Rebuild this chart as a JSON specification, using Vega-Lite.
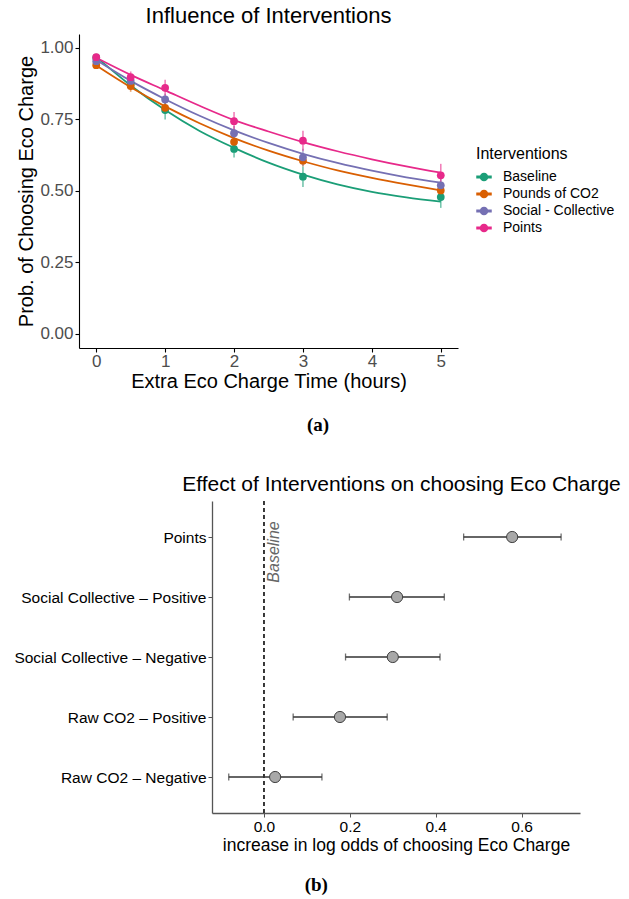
{
  "$schema": "https://vega.github.io/schema/vega-lite/v6.json",
  "padding": {"left": 5, "top": 5, "right": 0, "bottom": 5},
  "background": "white",
  "spacing": 38,
  "resolve": {"scale": {"color": "independent"}, "legend": {"color": "independent"}},
  "datasets": {
    "curves": [
      {"intervention": "Baseline", "time": 0, "prob": 0.968},
      {"intervention": "Baseline", "time": 0.5, "prob": 0.868},
      {"intervention": "Baseline", "time": 1, "prob": 0.782},
      {"intervention": "Baseline", "time": 1.5, "prob": 0.709},
      {"intervention": "Baseline", "time": 2, "prob": 0.650},
      {"intervention": "Baseline", "time": 2.5, "prob": 0.598},
      {"intervention": "Baseline", "time": 3, "prob": 0.556},
      {"intervention": "Baseline", "time": 3.5, "prob": 0.522},
      {"intervention": "Baseline", "time": 4, "prob": 0.496},
      {"intervention": "Baseline", "time": 4.5, "prob": 0.477},
      {"intervention": "Baseline", "time": 5, "prob": 0.462},
      {"intervention": "Pounds of CO2", "time": 0, "prob": 0.938},
      {"intervention": "Pounds of CO2", "time": 0.5, "prob": 0.862},
      {"intervention": "Pounds of CO2", "time": 1, "prob": 0.795},
      {"intervention": "Pounds of CO2", "time": 1.5, "prob": 0.736},
      {"intervention": "Pounds of CO2", "time": 2, "prob": 0.684},
      {"intervention": "Pounds of CO2", "time": 2.5, "prob": 0.640},
      {"intervention": "Pounds of CO2", "time": 3, "prob": 0.603},
      {"intervention": "Pounds of CO2", "time": 3.5, "prob": 0.571},
      {"intervention": "Pounds of CO2", "time": 4, "prob": 0.545},
      {"intervention": "Pounds of CO2", "time": 4.5, "prob": 0.522},
      {"intervention": "Pounds of CO2", "time": 5, "prob": 0.501},
      {"intervention": "Social - Collective", "time": 0, "prob": 0.957},
      {"intervention": "Social - Collective", "time": 0.5, "prob": 0.884},
      {"intervention": "Social - Collective", "time": 1, "prob": 0.820},
      {"intervention": "Social - Collective", "time": 1.5, "prob": 0.762},
      {"intervention": "Social - Collective", "time": 2, "prob": 0.711},
      {"intervention": "Social - Collective", "time": 2.5, "prob": 0.667},
      {"intervention": "Social - Collective", "time": 3, "prob": 0.629},
      {"intervention": "Social - Collective", "time": 3.5, "prob": 0.597},
      {"intervention": "Social - Collective", "time": 4, "prob": 0.570},
      {"intervention": "Social - Collective", "time": 4.5, "prob": 0.547},
      {"intervention": "Social - Collective", "time": 5, "prob": 0.528},
      {"intervention": "Points", "time": 0, "prob": 0.965},
      {"intervention": "Points", "time": 0.5, "prob": 0.905},
      {"intervention": "Points", "time": 1, "prob": 0.851},
      {"intervention": "Points", "time": 1.5, "prob": 0.797},
      {"intervention": "Points", "time": 2, "prob": 0.747},
      {"intervention": "Points", "time": 2.5, "prob": 0.707},
      {"intervention": "Points", "time": 3, "prob": 0.670},
      {"intervention": "Points", "time": 3.5, "prob": 0.638},
      {"intervention": "Points", "time": 4, "prob": 0.610},
      {"intervention": "Points", "time": 4.5, "prob": 0.585},
      {"intervention": "Points", "time": 5, "prob": 0.563}
    ],
    "obs": [
      {"intervention": "Baseline", "time": 0, "prob": 0.965, "lo": 0.955, "hi": 0.975},
      {"intervention": "Baseline", "time": 0.5, "prob": 0.872, "lo": 0.852, "hi": 0.892},
      {"intervention": "Baseline", "time": 1, "prob": 0.782, "lo": 0.749, "hi": 0.815},
      {"intervention": "Baseline", "time": 2, "prob": 0.646, "lo": 0.616, "hi": 0.676},
      {"intervention": "Baseline", "time": 3, "prob": 0.549, "lo": 0.513, "hi": 0.585},
      {"intervention": "Baseline", "time": 5, "prob": 0.478, "lo": 0.440, "hi": 0.516},
      {"intervention": "Pounds of CO2", "time": 0, "prob": 0.939, "lo": 0.929, "hi": 0.949},
      {"intervention": "Pounds of CO2", "time": 0.5, "prob": 0.866, "lo": 0.846, "hi": 0.886},
      {"intervention": "Pounds of CO2", "time": 1, "prob": 0.790, "lo": 0.770, "hi": 0.810},
      {"intervention": "Pounds of CO2", "time": 2, "prob": 0.671, "lo": 0.651, "hi": 0.691},
      {"intervention": "Pounds of CO2", "time": 3, "prob": 0.605, "lo": 0.585, "hi": 0.625},
      {"intervention": "Pounds of CO2", "time": 5, "prob": 0.501, "lo": 0.481, "hi": 0.521},
      {"intervention": "Social - Collective", "time": 0, "prob": 0.953, "lo": 0.943, "hi": 0.963},
      {"intervention": "Social - Collective", "time": 0.5, "prob": 0.884, "lo": 0.864, "hi": 0.904},
      {"intervention": "Social - Collective", "time": 1, "prob": 0.819, "lo": 0.799, "hi": 0.839},
      {"intervention": "Social - Collective", "time": 2, "prob": 0.701, "lo": 0.676, "hi": 0.726},
      {"intervention": "Social - Collective", "time": 3, "prob": 0.617, "lo": 0.587, "hi": 0.647},
      {"intervention": "Social - Collective", "time": 5, "prob": 0.519, "lo": 0.494, "hi": 0.544},
      {"intervention": "Points", "time": 0, "prob": 0.967, "lo": 0.957, "hi": 0.977},
      {"intervention": "Points", "time": 0.5, "prob": 0.897, "lo": 0.877, "hi": 0.917},
      {"intervention": "Points", "time": 1, "prob": 0.860, "lo": 0.832, "hi": 0.888},
      {"intervention": "Points", "time": 2, "prob": 0.743, "lo": 0.711, "hi": 0.775},
      {"intervention": "Points", "time": 3, "prob": 0.675, "lo": 0.640, "hi": 0.710},
      {"intervention": "Points", "time": 5, "prob": 0.554, "lo": 0.514, "hi": 0.594}
    ],
    "effects": [
      {"term": "Points", "est": 0.578, "lo": 0.465, "hi": 0.692},
      {"term": "Social Collective – Positive", "est": 0.310, "lo": 0.199, "hi": 0.420},
      {"term": "Social Collective – Negative", "est": 0.300, "lo": 0.190, "hi": 0.410},
      {"term": "Raw CO2 – Positive", "est": 0.177, "lo": 0.068, "hi": 0.287},
      {"term": "Raw CO2 – Negative", "est": 0.026, "lo": -0.082, "hi": 0.135}
    ],
    "annot": [
      {"label": "Baseline", "x": 0, "term": "Points"}
    ]
  },
  "vconcat": [
    {
      "title": {"text": "(a)", "orient": "bottom", "anchor": "middle", "frame": "bounds", "dx": 8, "offset": 25, "font": "Liberation Serif", "fontSize": 19, "fontWeight": "bold", "color": "black"},
      "resolve": {"scale": {"color": "independent"}, "legend": {"color": "independent"}},
      "vconcat": [
        {
          "name": "toppanel",
          "width": 379,
          "height": 314,
          "title": {"text": "Influence of Interventions", "fontSize": 22, "font": "Liberation Sans", "fontWeight": "normal", "anchor": "middle", "frame": "group", "offset": 6, "color": "black"},
          "layer": [
            {
              "mark": {"type": "rule", "strokeDash": [5, 4], "color": "#808080", "strokeWidth": 1.1},
              "encoding": {
                "y": {"datum": 0.5, "type": "quantitative", "title": "Prob. of Choosing Eco Charge", "scale": {"domain": [-0.05, 1.048], "nice": false, "zero": false}}
              }
            },
            {
              "data": {"name": "curves"},
              "mark": {"type": "line", "interpolate": "monotone", "strokeWidth": 1.8},
              "encoding": {
                "x": {"field": "time", "type": "quantitative", "title": "Extra Eco Charge Time (hours)", "scale": {"domain": [-0.25, 5.25], "nice": false, "zero": false},
                  "axis": {"values": [0, 1, 2, 3, 4, 5], "format": "d", "labelFontSize": 17, "labelColor": "#4D4D4D", "tickSize": 4, "labelPadding": 1, "titleFontSize": 20, "titlePadding": 2, "domainColor": "black", "tickColor": "black", "domainWidth": 1.1, "tickWidth": 1.1, "titleFontWeight": "normal", "titleColor": "black", "grid": false}},
                "y": {"field": "prob", "type": "quantitative", "title": "Prob. of Choosing Eco Charge", "scale": {"domain": [-0.05, 1.048], "nice": false, "zero": false},
                  "axis": {"values": [0, 0.25, 0.5, 0.75, 1], "format": ".2f", "labelFontSize": 17, "labelColor": "#4D4D4D", "tickSize": 4, "labelPadding": 2, "titleFontSize": 20, "titleFontWeight": "normal", "titleColor": "black", "titleX": -53, "titleY": 157, "titleBaseline": "middle", "titleAlign": "center", "minExtent": 74, "domainColor": "black", "tickColor": "black", "domainWidth": 1.1, "tickWidth": 1.1, "grid": false}},
                "color": {"field": "intervention", "type": "nominal", "title": "Interventions",
                  "scale": {"domain": ["Baseline", "Pounds of CO2", "Social - Collective", "Points"], "range": ["#1B9E77", "#D95F02", "#7570B3", "#E7298A"]},
                  "legend": {"orient": "none", "legendX": 397, "legendY": 112, "titleFontSize": 16, "titleFontWeight": "normal", "titleColor": "black", "titlePadding": 7, "labelFontSize": 14, "labelColor": "black", "labelOffset": 11,
                    "symbolType": "M-1,-0.1H-0.5V0.1H-1Z M0.5,-0.1H1V0.1H0.5Z M0.5,0A0.5,0.5,0,1,1,-0.5,0A0.5,0.5,0,1,1,0.5,0Z",
                    "symbolSize": 196, "rowPadding": 2,
                    "encode": {"symbols": {"update": {"fill": {"scale": "toppanel_color", "field": "value"}, "stroke": {"value": "transparent"}, "opacity": {"value": 1}}}}}}
              }
            },
            {
              "data": {"name": "obs"},
              "mark": {"type": "rule", "strokeWidth": 1.6, "opacity": 0.6},
              "encoding": {
                "x": {"field": "time", "type": "quantitative", "title": "Extra Eco Charge Time (hours)"},
                "y": {"field": "lo", "type": "quantitative", "title": "Prob. of Choosing Eco Charge"},
                "y2": {"field": "hi"},
                "color": {"field": "intervention", "type": "nominal", "title": "Interventions"}
              }
            },
            {
              "data": {"name": "obs"},
              "mark": {"type": "point", "filled": true, "size": 60, "opacity": 1},
              "encoding": {
                "x": {"field": "time", "type": "quantitative", "title": "Extra Eco Charge Time (hours)"},
                "y": {"field": "prob", "type": "quantitative", "title": "Prob. of Choosing Eco Charge"},
                "color": {"field": "intervention", "type": "nominal", "title": "Interventions"}
              }
            }
          ]
        }
      ]
    },
    {
      "title": {"text": "(b)", "orient": "bottom", "anchor": "middle", "frame": "bounds", "dx": -1, "offset": 22, "font": "Liberation Serif", "fontSize": 19, "fontWeight": "bold", "color": "black"},
      "vconcat": [
        {
          "width": 501,
          "height": 312,
          "title": {"text": "Effect of Interventions on choosing Eco Charge", "fontSize": 21, "font": "Liberation Sans", "fontWeight": "normal", "anchor": "middle", "frame": "group", "dx": 72, "offset": 6, "color": "black"},
          "data": {"name": "effects"},
          "encoding": {
            "y": {"field": "term", "type": "nominal", "title": null,
              "sort": ["Points", "Social Collective – Positive", "Social Collective – Negative", "Raw CO2 – Positive", "Raw CO2 – Negative"],
              "scale": {"type": "point", "padding": 0.6},
              "axis": {"offset": -133, "labelFontSize": 15.5, "labelColor": "black", "labelLimit": 0, "tickSize": 4, "labelPadding": 2, "domainColor": "#555555", "tickColor": "#555555", "domainWidth": 1.3, "tickWidth": 1, "grid": false}}
          },
          "layer": [
            {
              "mark": {"type": "rule", "strokeDash": [4, 3], "color": "#333333", "strokeWidth": 1},
              "encoding": {"x": {"datum": 0, "type": "quantitative"}, "y": null}
            },
            {
              "data": {"name": "annot"},
              "mark": {"type": "text", "angle": -90, "align": "center", "baseline": "top", "dx": -15, "dy": 2, "fontStyle": "italic", "fontSize": 16, "color": "#666666", "font": "Liberation Sans"},
              "encoding": {
                "x": {"field": "x", "type": "quantitative"},
                "text": {"field": "label"}
              }
            },
            {
              "mark": {"type": "rule", "color": "#333333", "strokeWidth": 1.3},
              "encoding": {
                "x": {"field": "lo", "type": "quantitative", "title": "increase in log odds of choosing Eco Charge",
                  "scale": {"domain": [-0.121, 0.736], "range": [133, 501], "nice": false, "zero": false},
                  "axis": {"values": [0, 0.2, 0.4, 0.6], "format": ".1f", "labelFontSize": 15.5, "labelColor": "black", "tickSize": 4, "labelPadding": 2, "titleFontSize": 17.5, "titleFontWeight": "normal", "titleColor": "black", "titlePadding": 2, "domainColor": "#555555", "tickColor": "#555555", "domainWidth": 1.3, "tickWidth": 1, "grid": false}},
                "x2": {"field": "hi"}
              }
            },
            {
              "mark": {"type": "tick", "orient": "vertical", "size": 7, "thickness": 1.3, "color": "#333333"},
              "encoding": {"x": {"field": "lo", "type": "quantitative", "title": "increase in log odds of choosing Eco Charge"}}
            },
            {
              "mark": {"type": "tick", "orient": "vertical", "size": 7, "thickness": 1.3, "color": "#333333"},
              "encoding": {"x": {"field": "hi", "type": "quantitative", "title": "increase in log odds of choosing Eco Charge"}}
            },
            {
              "mark": {"type": "point", "filled": true, "size": 125, "fill": "#A8A8A8", "stroke": "#404040", "strokeWidth": 1, "opacity": 1},
              "encoding": {"x": {"field": "est", "type": "quantitative", "title": "increase in log odds of choosing Eco Charge"}}
            }
          ]
        }
      ]
    }
  ],
  "config": {
    "view": {"stroke": null},
    "font": "Liberation Sans",
    "axis": {"grid": false, "labelFont": "Liberation Sans", "titleFont": "Liberation Sans"},
    "legend": {"labelFont": "Liberation Sans", "titleFont": "Liberation Sans"}
  }
}
